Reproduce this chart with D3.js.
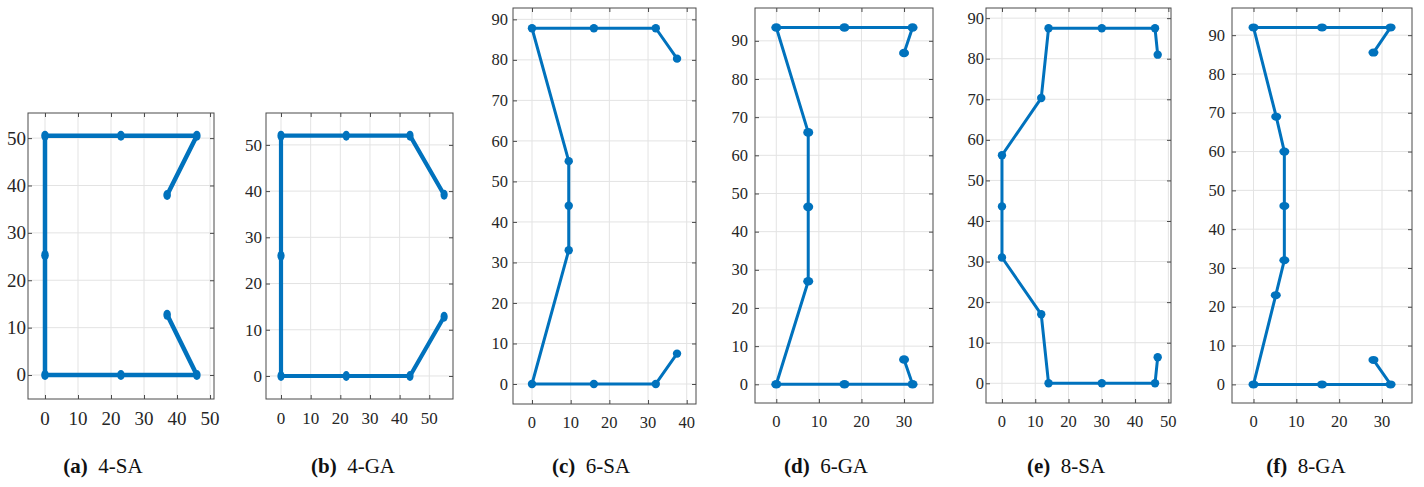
<!DOCTYPE html>
<html>
<head>
<meta charset="utf-8">
<script src="https://cdn.jsdelivr.net/npm/d3@7"></script>
<style>
  html, body { margin: 0; padding: 0; background: #fff; }
  svg { display: block; }
  .tick-label { font-family: "Liberation Serif", "DejaVu Serif", serif; fill: #262626; }
  .caption { font-family: "Liberation Serif", "DejaVu Serif", serif; fill: #111; }
</style>
</head>
<body>
<svg id="fig" width="1424" height="487"></svg>
<script>
// Element node coordinates for each layout (x, y), in drawing order along the path
const sa4X = [37, 46, 23, 0, 0, 0, 23, 46, 37];
const sa4Y = [38, 50.5, 50.5, 50.5, 25.3, 0, 0, 0, 12.7];

const ga4X = [55, 43.5, 22, 0, 0, 0, 22, 43.5, 55];
const ga4Y = [39.2, 52, 52, 52, 26, 0, 0, 0, 12.8];

const sa6X = [37.5, 32, 16, 0, 9.5, 9.5, 9.5, 0, 16, 32, 37.5];
const sa6Y = [80.3, 87.8, 87.8, 87.8, 55, 44, 33, 0, 0, 0, 7.5];

const ga6X = [30, 32, 16, 0, 7.5, 7.5, 7.5, 0, 16, 32, 30];
const ga6Y = [86.8, 93.5, 93.5, 93.5, 66, 46.5, 27, 0, 0, 0, 6.5];

const sa8X = [46.8, 46, 30, 14, 11.8, 0, 0, 0, 11.8, 14, 30, 46, 46.8];
const sa8Y = [81, 87.5, 87.5, 87.5, 70.3, 56.2, 43.6, 31, 17, 0, 0, 0, 6.4];

const ga8X = [28, 32, 16, 0, 5.3, 7.2, 7.2, 7.2, 5.2, 0, 16, 32, 28];
const ga8Y = [85.5, 92, 92, 92, 69, 60, 46, 32, 23, 0, 0, 0, 6.3];

// Tick values
const xTicks50 = [0, 10, 20, 30, 40, 50];
const xTicks40 = [0, 10, 20, 30, 40];
const xTicks30 = [0, 10, 20, 30];
const yTicks50 = [0, 10, 20, 30, 40, 50];
const yTicks90 = [0, 10, 20, 30, 40, 50, 60, 70, 80, 90];

// Caption labels
const captionTags = ["(a)", "(b)", "(c)", "(d)", "(e)", "(f)"];
const captionNames = ["4-SA", "4-GA", "6-SA", "6-GA", "8-SA", "8-GA"];

// Panel layout: axes box in pixels and axis limits
const panels = [
  { xs: sa4X, ys: sa4Y, box: [28, 113, 214, 399], xlim: [-5.15, 51.2], ylim: [-5.06, 55.3],
    xt: xTicks50, yt: yTicks50, lw: 4.5, rx: 3.8, ry: 5, fs: 19, gap: 2, cap: 103 },
  { xs: ga4X, ys: ga4Y, box: [266, 113, 453, 399], xlim: [-5.06, 58], ylim: [-4.98, 56.9],
    xt: xTicks50, yt: yTicks50, lw: 4.2, rx: 3.6, ry: 5, fs: 17, gap: 4, cap: 353 },
  { xs: sa6X, ys: sa6Y, box: [513, 8, 696, 404], xlim: [-4.91, 42.4], ylim: [-4.94, 92.8],
    xt: xTicks40, yt: yTicks90, lw: 3, rx: 4.2, ry: 4.2, fs: 16.5, gap: 5, cap: 591 },
  { xs: ga6X, ys: ga6Y, box: [755, 8, 933, 403], xlim: [-5.0, 36.8], ylim: [-4.9, 98.6],
    xt: xTicks30, yt: yTicks90, lw: 3, rx: 5, ry: 4.3, fs: 16.5, gap: 7, cap: 826 },
  { xs: sa8X, ys: sa8Y, box: [986, 8, 1171, 403], xlim: [-4.8, 50.8], ylim: [-4.86, 92.5],
    xt: xTicks50, yt: yTicks90, lw: 3, rx: 4.2, ry: 4.2, fs: 16.5, gap: 2, cap: 1066 },
  { xs: ga8X, ys: ga8Y, box: [1232, 8, 1412, 403], xlim: [-5.02, 37], ylim: [-4.8, 97],
    xt: xTicks30, yt: yTicks90, lw: 3, rx: 5, ry: 4, fs: 16.5, gap: 7, cap: 1306 }
];

const svg = d3.select("#fig");
const lineColor = "#0072BD";
const frameColor = "#4a4a4a";
const gridColor = "#e3e3e3";
const tickLen = 4;

panels.forEach((p, i) => {
  const [x0, y0, x1, y1] = p.box;
  const x = d3.scaleLinear().domain(p.xlim).range([x0, x1]);
  const y = d3.scaleLinear().domain(p.ylim).range([y1, y0]);
  const g = svg.append("g");

  // grid
  g.selectAll(".gx").data(p.xt).join("line")
    .attr("x1", d => x(d)).attr("x2", d => x(d))
    .attr("y1", y0).attr("y2", y1)
    .attr("stroke", gridColor).attr("stroke-width", 1);
  g.selectAll(".gy").data(p.yt).join("line")
    .attr("x1", x0).attr("x2", x1)
    .attr("y1", d => y(d)).attr("y2", d => y(d))
    .attr("stroke", gridColor).attr("stroke-width", 1);

  // axes with inward ticks on all four sides
  const axB = d3.axisBottom(x).tickValues(p.xt).tickSize(-tickLen).tickFormat("");
  const axT = d3.axisTop(x).tickValues(p.xt).tickSize(-tickLen).tickFormat("");
  const axL = d3.axisLeft(y).tickValues(p.yt).tickSize(-tickLen).tickFormat("");
  const axR = d3.axisRight(y).tickValues(p.yt).tickSize(-tickLen).tickFormat("");
  [[axB, `translate(0,${y1})`], [axT, `translate(0,${y0})`],
   [axL, `translate(${x0},0)`], [axR, `translate(${x1},0)`]].forEach(([ax, tr]) => {
    const a = g.append("g").attr("transform", tr).call(ax);
    a.select(".domain").remove();
    a.selectAll(".tick line").attr("stroke", frameColor).attr("stroke-width", 1);
  });

  // frame
  g.append("rect")
    .attr("x", x0).attr("y", y0)
    .attr("width", x1 - x0).attr("height", y1 - y0)
    .attr("fill", "none").attr("stroke", frameColor).attr("stroke-width", 1);

  // tick labels
  g.selectAll(".xl").data(p.xt).join("text")
    .attr("class", "tick-label")
    .attr("x", d => x(d)).attr("y", y1 + 13 + p.fs * 0.68)
    .attr("text-anchor", "middle")
    .style("font-size", p.fs + "px")
    .text(d => d);
  g.selectAll(".yl").data(p.yt).join("text")
    .attr("class", "tick-label")
    .attr("x", x0 - p.gap).attr("y", d => y(d))
    .attr("dy", "0.34em")
    .attr("text-anchor", "end")
    .style("font-size", p.fs + "px")
    .text(d => d);

  // element path
  const pts = p.xs.map((v, k) => [v, p.ys[k]]);
  const line = d3.line().x(d => x(d[0])).y(d => y(d[1]));
  g.append("path")
    .attr("d", line(pts))
    .attr("fill", "none")
    .attr("stroke", lineColor)
    .attr("stroke-width", p.lw)
    .attr("stroke-linejoin", "round")
    .attr("stroke-linecap", "round");
  g.selectAll(".mk").data(pts).join("ellipse")
    .attr("cx", d => x(d[0])).attr("cy", d => y(d[1]))
    .attr("rx", p.rx).attr("ry", p.ry)
    .attr("fill", lineColor);

  // caption
  const cap = svg.append("text")
    .attr("class", "caption")
    .attr("x", p.cap).attr("y", 473)
    .attr("text-anchor", "middle")
    .style("font-size", "21px");
  cap.append("tspan").attr("font-weight", "bold").text(captionTags[i]);
  cap.append("tspan").text("\u2002" + captionNames[i]);
});
</script>
</body>
</html>
